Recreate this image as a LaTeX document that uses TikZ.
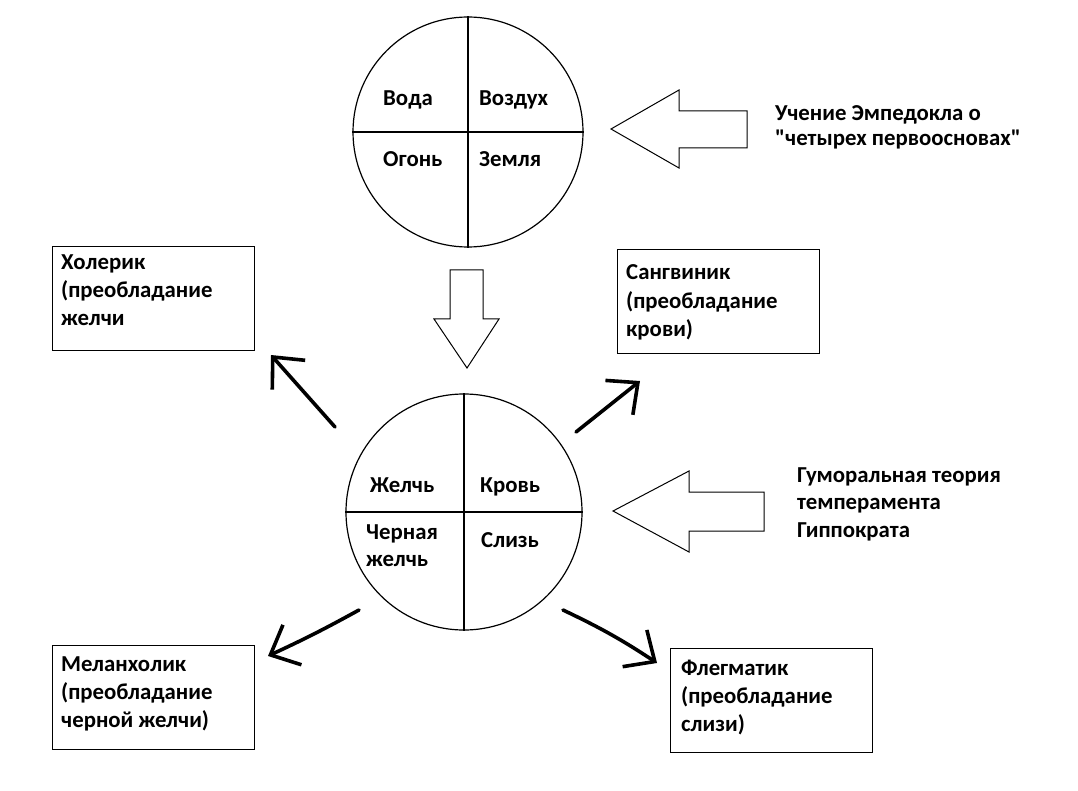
\documentclass[tikz,border=0pt]{standalone}
\usepackage{fontspec}
\setmainfont{Carlito}[Ligatures=TeXOff]
\usetikzlibrary{arrows.meta,positioning}
\begin{document}
\begin{tikzpicture}[x=1pt,y=-1pt,
    txt/.style={font=\fontsize{22.8}{28}\selectfont\bfseries, inner sep=0pt, align=left, anchor=base west},
    part/.style={circle, draw, line width=1.2pt, minimum size=#1, inner sep=0pt},
    card/.style={draw, line width=1pt, minimum width=202pt, minimum height=104pt, anchor=north west, inner sep=0pt},
    hand/.style={line width=3.6pt, line cap=round, line join=round, -{Straight Barb[length=24pt 0, width=44pt 0]}},
    block/.style={draw, line width=1pt}]
  \useasboundingbox (0,0) rectangle (1078,791);
  % four elements
  \node[part=230pt] (elem) at (468,132) {};
  \draw[line width=1.2pt] (elem.north) -- (elem.south);
  \draw[line width=1.2pt] (elem.west) -- (elem.east);
  \node[txt] (voda) at (383,106) {Вода};
  \node[txt] (vozd) at (479,106) {Воздух};
  \node[txt] (ogon) at (383,167) {Огонь};
  \node[txt] (zeml) at (479,167) {Земля};
  % four humours
  \node[part=236pt] (hum) at (464,512) {};
  \draw[line width=1.2pt] (hum.north) -- (hum.south);
  \draw[line width=1.2pt] (hum.west) -- (hum.east);
  \node[txt] (zhel) at (370,492) {Желчь};
  \node[txt] (krov) at (480,492) {Кровь};
  \node[txt, font=\fontsize{22.8}{27}\selectfont\bfseries] (chern) at (366,566) {Черная\\желчь};
  \node[txt] (sliz) at (481,547) {Слизь};
  % captions
  \node[txt, font=\fontsize{22.8}{24.5}\selectfont\bfseries] (emp) at (775,145.5)
    {Учение Эмпедокла о\\"четырех первоосновах"};
  \node[txt, font=\fontsize{22.8}{27.5}\selectfont\bfseries] (gipp) at (797,537)
    {Гуморальная теория\\темперамента\\Гиппократа};
  % block arrows
  \draw[block] (611,129) -- (679,90) -- (679,111) -- (747,111) -- (747,148)
    -- (679,148) -- (679,168) -- cycle;
  \draw[block] (613,511) -- (689,471) -- (689,492) -- (764,492) -- (764,531)
    -- (689,531) -- (689,552) -- cycle;
  \draw[block] (450,270) -- (483,270) -- (483,319) -- (499,319) -- (467,368)
    -- (434,319) -- (450,319) -- cycle;
  % temperaments
  \node[card] (chol) at (52,246) {};
  \node[txt] (cholT) at (61,325.5) {Холерик\\(преобладание\\желчи};
  \node[card] (sang) at (617,249) {};
  \node[txt] (sangT) at (626,336) {Сангвиник\\(преобладание\\крови)};
  \node[card] (mel) at (52,645) {};
  \node[txt] (melT) at (61,727) {Меланхолик\\(преобладание\\черной желчи)};
  \node[card] (fleg) at (670,648) {};
  \node[txt] (flegT) at (681,731) {Флегматик\\(преобладание\\слизи)};
  % hand drawn arrows
  \coordinate (c1) at (335,427);
  \coordinate (c2) at (576,432);
  \coordinate (c3) at (359,610);
  \coordinate (c4) at (563,610);
  \coordinate (e1) at (271,355);
  \coordinate (e2) at (640,381);
  \coordinate (e3) at (268,656);
  \coordinate (e4) at (657,663);
  \draw[hand] (c1) -- (e1);
  \draw[hand] (c2) -- (e2);
  \draw[hand] (c3) to[bend left=2] (e3);
  \draw[hand] (c4) to[bend left=4] (e4);
\end{tikzpicture}
\end{document}
